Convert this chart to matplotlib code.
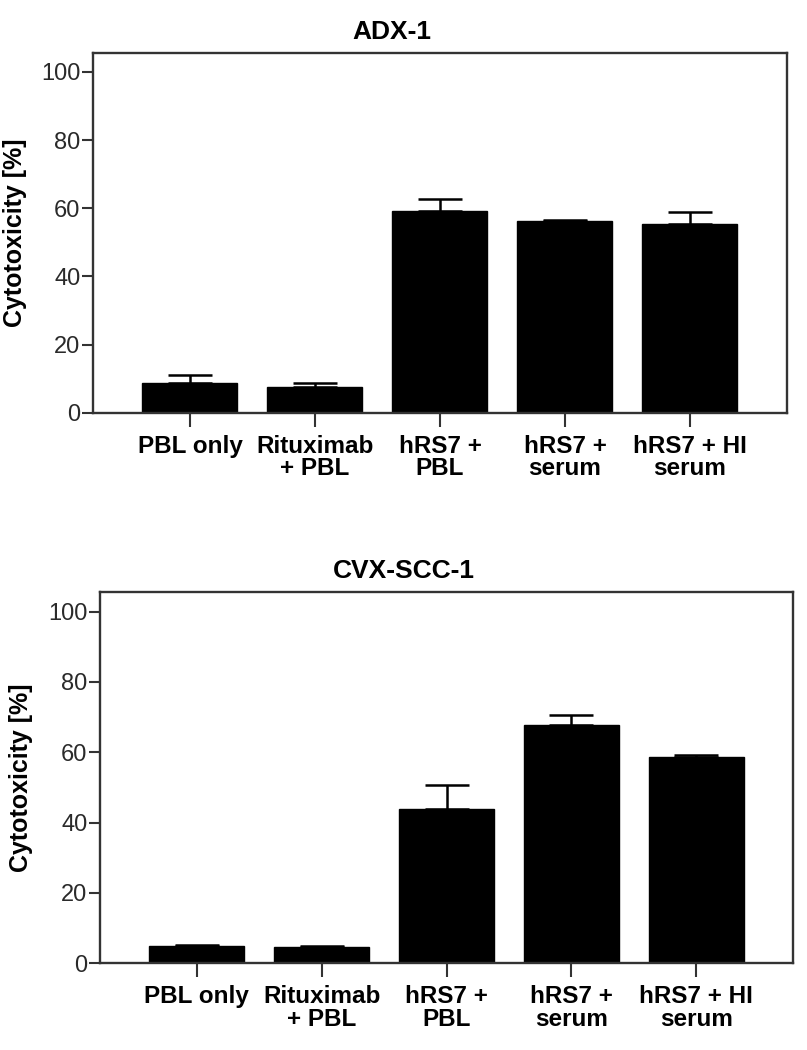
import matplotlib
matplotlib.use("Agg")
import matplotlib.pyplot as plt
import numpy as np

categories = ["PBL only", "Rituximab\n+ PBL", "hRS7 +\nPBL", "hRS7 +\nserum", "hRS7 + HI\nserum"]
adx_values = [8.7, 7.7, 59.2, 56.2, 55.4]
adx_err = [2.4, 1.0, 3.6, 0.3, 3.5]
cvx_values = [4.9, 4.5, 44.0, 67.9, 58.8]
cvx_err = [0.3, 0.3, 6.8, 2.8, 0.5]
titles = ["ADX-1", "CVX-SCC-1"]
y_ticks = [0, 20, 40, 60, 80, 100]
ylabel = "Cytotoxicity [%]"

plt.rcParams['font.family'] = ['Liberation Sans', 'DejaVu Sans']

fig = plt.figure(figsize=(8.07, 10.5), dpi=100)
ax1 = fig.add_axes([0.1152, 0.6067, 0.8600, 0.3428])
ax2 = fig.add_axes([0.1239, 0.0826, 0.8588, 0.3533])

for ax, vals, errs, title, lx, tx in [(ax1, adx_values, adx_err, titles[0], -0.095, 0.431),
                                      (ax2, cvx_values, cvx_err, titles[1], -0.097, 0.439)]:
    x = np.arange(len(categories))
    ax.bar(x, vals, width=0.76, color='black', edgecolor='black', zorder=2)
    ax.errorbar(x, vals, yerr=[np.zeros(len(vals)), errs], fmt='none',
                ecolor='black', elinewidth=1.8, capsize=16, capthick=1.8, zorder=3)
    ax.set_xlim(-0.776, 4.776)
    ax.set_ylim(0, 105.5)
    ax.set_yticks(y_ticks)
    ax.set_yticklabels([str(t) for t in y_ticks], fontsize=17, color='#2a2a2a',
                       family=['Liberation Sans Narrow', 'Liberation Sans', 'DejaVu Sans'])
    ax.set_xticks(x)
    ax.set_xticklabels(categories, fontsize=17.5, fontweight='bold', linespacing=0.95)
    ax.tick_params(axis='y', length=8, width=1.5, pad=1, color='#333333')
    ax.tick_params(axis='x', length=10, width=1.5, pad=6, color='#333333')
    for s in ax.spines.values():
        s.set_linewidth(1.7)
        s.set_color('#333333')
    ax.set_ylabel(ylabel, fontsize=18, fontweight='bold')
    ax.yaxis.set_label_coords(lx, 0.5)
    ax.set_title(title, fontsize=19, fontweight='bold', pad=10, x=tx)

fig.savefig("out.png", dpi=100)
